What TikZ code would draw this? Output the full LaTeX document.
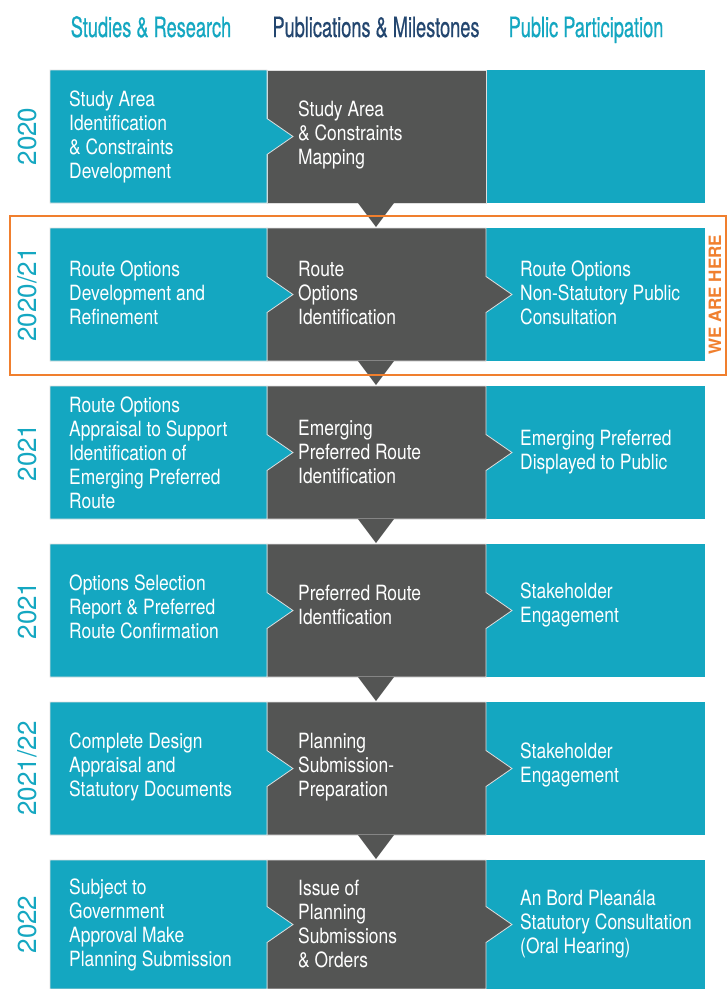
\documentclass[tikz,border=0pt]{standalone}
\usepackage{fontspec}
\setmainfont{TeX Gyre Heros}[FakeStretch=0.83]
\newfontfamily\headfont{TeX Gyre Heros}[FakeStretch=0.65, FakeBold=0.6]
\newfontfamily\yearfont{TeX Gyre Heros}
\usepackage{xcolor}
\usepackage{tikz}
\usetikzlibrary{calc}
\definecolor{myteal}{HTML}{14A7C1}
\definecolor{mydark}{HTML}{545554}
\definecolor{myblue}{HTML}{23466F}
\definecolor{myorange}{HTML}{F07F2E}

\begin{document}
\begin{tikzpicture}[x=1pt, y=-1pt,
    stage/.style={anchor=west, align=left, inner sep=0pt, text=white,
        font=\fontsize{21}{24}\selectfont},
    yearlabel/.style={rotate=90, text=myteal, inner sep=0pt,
        font=\yearfont\fontsize{26}{28}\selectfont},
    heading/.style={anchor=base, inner sep=0pt, font=\headfont\fontsize{28}{30}\selectfont},
    edge/.style={draw=white!75!gray, line width=0.8pt}]

        \useasboundingbox (0,0) rectangle (728,989);

        % headings
        \node[heading, text=myteal] (hstudy) at (151,37) {Studies \& Research};
        \node[heading, text=myblue] (hpub) at (376,37) {Publications \& Milestones};
        \node[heading, text=myteal] (hpart) at (586,37) {Public Participation};

        % rows: top, bottom, centre
        \foreach \t/\b [count=\i] in {70/203, 228/361, 386/519, 544/677, 702/835, 860/989} {
            \pgfmathsetmacro{\c}{(\t+\b)/2}
            \ifnum\i>1
                \fill[myteal] (486,\t) rectangle (705,\b);
                \fill[mydark, edge] (267,\t) -- (486,\t) -- (486,\c-18) -- (512,\c)
                    -- (486,\c+18) -- (486,\b) -- (267,\b) -- cycle;
            \else
                \fill[myteal] (486,\t) rectangle (705,\b);
                \fill[mydark, edge] (267,\t) rectangle (486,\b);
            \fi
            \ifnum\i<6
                \fill[mydark] (358,\b) -- (376,\b+24) -- (394,\b) -- cycle;
            \fi
            \fill[myteal, edge] (50,\t) -- (267,\t) -- (267,\c-18) -- (293,\c)
                -- (267,\c+18) -- (267,\b) -- (50,\b) -- cycle;
        }

        % years
        \node[yearlabel] (year1) at (27,136.5) {2020};
        \node[yearlabel] (year2) at (27,294.5) {2020/21};
        \node[yearlabel] (year3) at (27,452.5) {2021};
        \node[yearlabel] (year4) at (27,610.5) {2021};
        \node[yearlabel] (year5) at (27,768.5) {2021/22};
        \node[yearlabel] (year6) at (27,924.5) {2022};

        % studies and research
        \node[stage] (study1) at (69,136.5) {Study Area\\Identification\\\& Constraints\\Development};
        \node[stage] (study2) at (69,293) {Route Options\\Development and\\Refinement};
        \node[stage] (study3) at (69,452.5) {Route Options\\Appraisal to Support\\Identification of\\Emerging Preferred\\Route};
        \node[stage] (study4) at (69,607) {Options Selection\\Report \& Preferred\\Route Confirmation};
        \node[stage] (study5) at (69,767) {Complete Design\\Appraisal and\\Statutory Documents};
        \node[stage] (study6) at (69,924.5) {Subject to\\Government\\Approval Make\\Planning Submission};

        % publications and milestones
        \node[stage] (pub1) at (298,135) {Study Area\\\& Constraints\\Mapping};
        \node[stage] (pub2) at (298,293) {Route\\Options\\Identification};
        \node[stage] (pub3) at (298,452) {Emerging\\Preferred Route\\Identification};
        \node[stage] (pub4) at (298,605) {Preferred Route\\Identfication};
        \node[stage] (pub5) at (298,767) {Planning\\Submission-\\Preparation};
        \node[stage] (pub6) at (298,924.5) {Issue of\\Planning\\Submissions\\\& Orders};

        % public participation
        \node[stage] (part2) at (520,293) {Route Options\\Non-Statutory Public\\Consultation};
        \node[stage] (part3) at (520,452) {Emerging Preferred\\Displayed to Public};
        \node[stage] (part4) at (520,605) {Stakeholder\\Engagement};
        \node[stage] (part5) at (520,765) {Stakeholder\\Engagement};
        \node[stage] (part6) at (520,924) {An Bord Pleanála\\Statutory Consultation\\(Oral Hearing)};

        % current stage
        \draw[myorange, line width=2pt] (10,216) rectangle (726,375);
        \node[rotate=90, text=myorange, inner sep=0pt,
            font=\yearfont\bfseries\fontsize{17}{19}\selectfont] (here) at (715,295) {WE ARE HERE};
    \end{tikzpicture}
\end{document}
